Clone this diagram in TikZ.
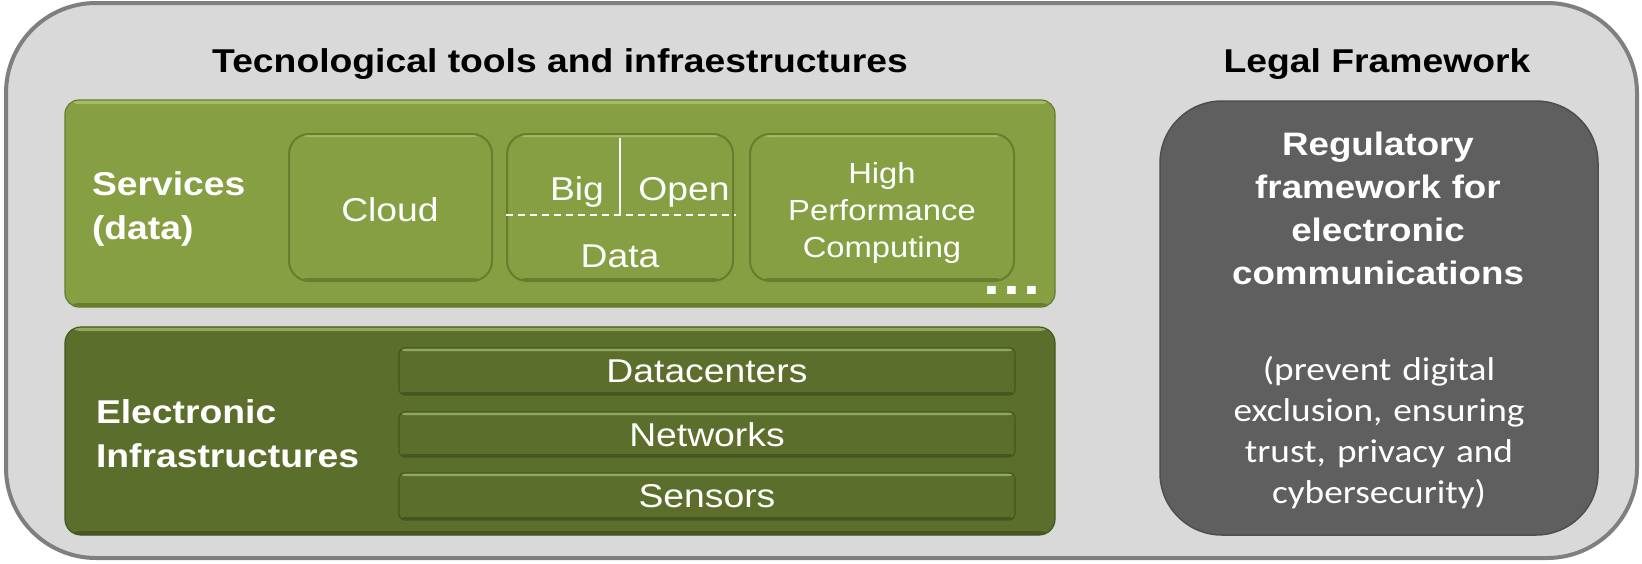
\documentclass[tikz,border=0pt]{standalone}
\usepackage{fontspec}
\setmainfont[FakeStretch=1.13]{Liberation Sans}
\newfontfamily\calib[FakeStretch=1.13]{Carlito}
\definecolor{framefill}{HTML}{D9D9D9}
\definecolor{frameline}{HTML}{7F7F7F}
\definecolor{svcgreen}{HTML}{859F42}
\definecolor{svcdark}{HTML}{667E2E}
\definecolor{svclight}{HTML}{A3BD66}
\definecolor{infgreen}{HTML}{5C6E2B}
\definecolor{infdark}{HTML}{46561F}
\definecolor{inflight}{HTML}{8FA95C}
\definecolor{legalgray}{HTML}{5F5F5F}
\definecolor{legaldark}{HTML}{4E4E4E}
\begin{document}
\begin{tikzpicture}[x=1pt,y=-1pt,
  every node/.style={inner sep=0pt, outer sep=0pt},
  frame/.style={draw=frameline, line width=4pt, fill=framefill, rounded corners=90pt},
  title/.style={font=\fontsize{33}{40}\selectfont\bfseries, text=black},
  panel/.style={line width=1.2pt, rounded corners=#1},
  striped/.style n args={3}{path picture={
      \fill[#1] (path picture bounding box.north west) rectangle ([yshift=-#3]path picture bounding box.north east);
      \fill[#2] ([yshift=#3]path picture bounding box.south west) rectangle (path picture bounding box.south east);}},
  svcbox/.style={panel=14pt, fill=svcgreen, draw=svcdark, striped={svclight}{svcdark}{4pt}},
  inbox/.style={panel=20pt, line width=2pt, fill=svcgreen, draw=svcdark, striped={svclight}{svcdark}{3pt}},
  infbox/.style={panel=16pt, fill=infgreen, draw=infdark, striped={inflight}{infdark}{4pt}},
  barbox/.style={panel=6pt, fill=infgreen, draw=infdark, striped={inflight}{infdark}{3pt},
      minimum width=616pt, anchor=north west, text=white, font=\fontsize{33}{40}\selectfont},
  legalbox/.style={rounded corners=62pt, fill=legalgray, draw=legaldark, line width=1.5pt},
  boldlab/.style={text=white, font=\fontsize{33}{44}\selectfont\bfseries},
  intext/.style={text=white, font=\fontsize{33}{40}\selectfont},
  hpctext/.style={text=white, font=\fontsize{29}{37}\selectfont},
  legalbold/.style={text=white, font=\fontsize{32.5}{43.3}\selectfont\bfseries},
  legalreg/.style={text=white, font=\calib\fontsize{33}{41}\selectfont},
  divider/.style={draw=white, line width=1.5pt}
]
\useasboundingbox (0,0) rectangle (1642,563);
\fill[white] (0,0) rectangle (1642,563);
\node[frame, minimum width=1631pt, minimum height=555pt, anchor=north west] (frame) at (6,3) {};

\node[title, anchor=base] (ttech) at (560,72) {Tecnological tools and infraestructures};
\node[title, anchor=base] (tlegal) at (1377,72) {Legal Framework};

% Services
\node[svcbox, minimum width=990pt, minimum height=207pt, anchor=north west] (svc) at (65,100) {};
\node[boldlab, anchor=base west, text width=180pt, align=left] (svclab) at (92,195) {Services\\(data)};
\node[inbox, minimum width=203pt, minimum height=147pt, anchor=north west] (cloud) at (289,134) {};
\node[intext] (cloudt) at (390,210) {Cloud};
\node[inbox, minimum width=226pt, minimum height=147pt, anchor=north west] (bigdata) at (507,134) {};
\node[intext, anchor=base] (big) at (577,200) {Big};
\node[intext, anchor=base] (open) at (684,200) {Open};
\node[intext, anchor=base] (data) at (620,267) {Data};
\draw[divider] (620,138) -- (620,215);
\draw[divider, dash pattern=on 7pt off 5pt] (506,215) -- (736,215);
\node[inbox, minimum width=264pt, minimum height=147pt, anchor=north west] (hpc) at (750,134) {};
\node[hpctext, anchor=base, text width=250pt, align=center] (hpct) at (882,183) {High\\Performance\\Computing};
\node[text=white, font=\fontsize{54}{60}\selectfont\bfseries, anchor=base] (dots) at (1012,294) {.\kern3pt.\kern3pt.};

% Electronic infrastructures
\node[infbox, minimum width=990pt, minimum height=208pt, anchor=north west] (infra) at (65,327) {};
\node[boldlab, anchor=base west, text width=300pt, align=left] (inflab) at (96,423) {Electronic\\Infrastructures};
\node[barbox, minimum height=47pt] (dc) at (399,348) {Datacenters};
\node[barbox, minimum height=45pt] (net) at (399,412) {Networks};
\node[barbox, minimum height=47pt] (sen) at (399,473) {Sensors};

% Legal
\node[legalbox, minimum width=438pt, minimum height=434pt, anchor=north west] (legal) at (1160,101) {};
\node[legalbold, anchor=base, text width=420pt, align=center] (legalt) at (1378,155) {Regulatory\\framework for\\electronic\\communications};
\node[legalreg, anchor=base, text width=420pt, align=center] (legald) at (1379,380) {(prevent digital\\exclusion, ensuring\\trust, privacy and\\cybersecurity)};
\end{tikzpicture}
\end{document}
